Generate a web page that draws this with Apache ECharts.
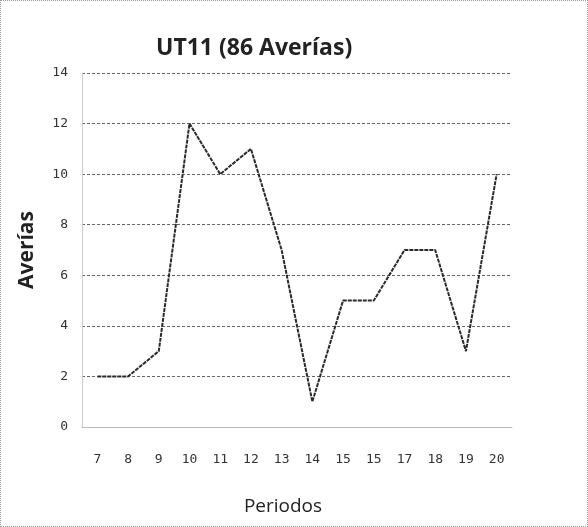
<!DOCTYPE html>
<html>
<head>
<meta charset="utf-8">
<script src="https://cdn.jsdelivr.net/npm/echarts@6/dist/echarts.min.js"></script>
<style>
  html, body { margin: 0; padding: 0; background: #fff; }
  #chart {
    width: 588px;
    height: 527px;
    box-sizing: border-box;
    border: 1px dotted #999; /* dotted frame like the scanned sheet */
  }
</style>
</head>
<body>
<div id="chart"></div>
<script>
// periods on the x axis
const periodos = ['7', '8', '9', '10', '11', '12', '13', '14', '15', '15', '17', '18', '19', '20']
// failures per period
const averias = [2, 2, 3, 12, 10, 11, 7, 1, 5, 5, 7, 7, 3, 10]
const yTicks = [0, 2, 4, 6, 8, 10, 12, 14]

const chart = echarts.init(document.getElementById('chart'))

const option = {
  animation: false,
  title: {
    text: 'UT11 (86 Averías)',
    left: 150,
    top: 31,
    textStyle: {
      fontFamily: 'Open Sans',
      fontWeight: 'bold',
      fontSize: 23,
      color: '#222'
    }
  },
  grid: {
    left: 81,
    right: 75,
    top: 72,
    bottom: 99
  },
  xAxis: {
    type: 'category',
    data: periodos,
    boundaryGap: true,
    name: 'Periodos',
    nameLocation: 'middle',
    nameGap: 70,
    nameTextStyle: {
      fontFamily: 'Open Sans',
      fontSize: 19,
      color: '#222',
      padding: [0, 28, 0, 0]
    },
    axisLine: { lineStyle: { color: '#bbb' } },
    axisTick: { show: false },
    axisLabel: {
      margin: 26,
      fontFamily: 'DejaVu Sans Mono',
      fontSize: 13,
      color: '#333'
    }
  },
  yAxis: {
    type: 'value',
    min: yTicks[0],
    max: yTicks[yTicks.length - 1],
    interval: 2,
    name: 'Averías',
    nameLocation: 'middle',
    nameGap: 44,
    nameTextStyle: {
      fontFamily: 'Open Sans',
      fontWeight: 'bold',
      fontSize: 21,
      color: '#222'
    },
    axisLine: { show: true, lineStyle: { color: '#ccc' } },
    axisTick: { show: false },
    axisLabel: {
      margin: 14,
      fontFamily: 'DejaVu Sans Mono',
      fontSize: 13,
      color: '#333'
    },
    splitLine: {
      lineStyle: { color: '#666', type: [3, 2], width: 1 }
    }
  },
  series: [
    {
      type: 'line',
      data: averias,
      symbol: 'none',
      lineStyle: { color: '#2a2a2a', width: 2, type: [4, 1] }
    }
  ]
}

chart.setOption(option)
</script>
</body>
</html>
